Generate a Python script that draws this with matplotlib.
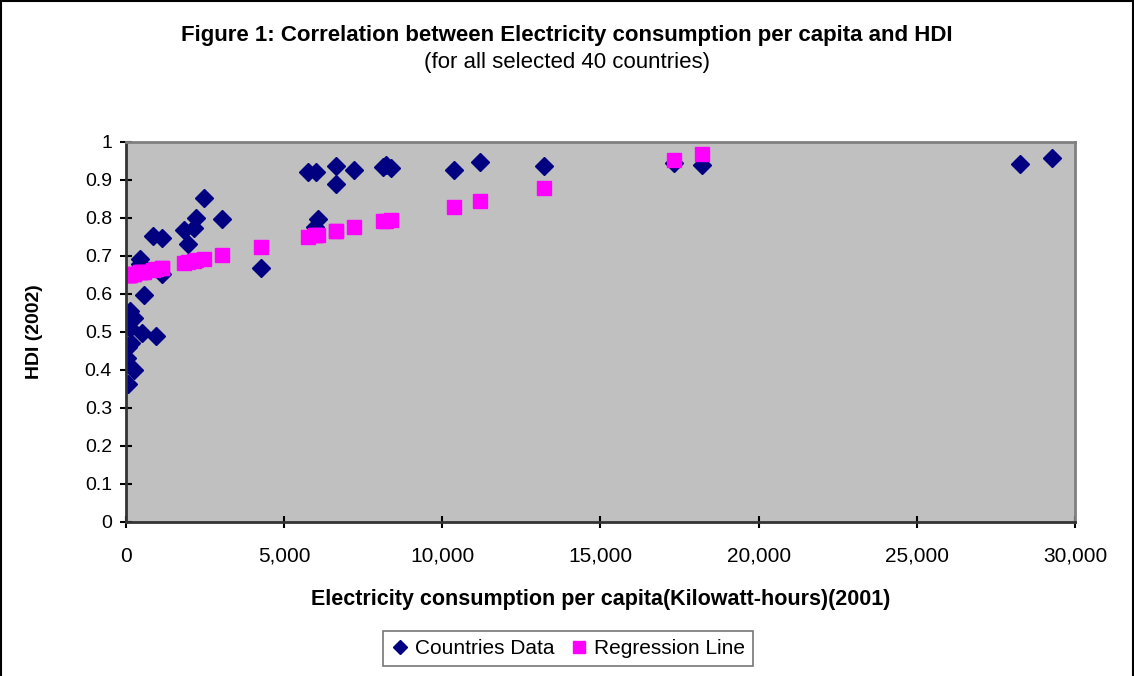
import numpy as np
import matplotlib
matplotlib.use("Agg")
from matplotlib import pyplot as plt
from matplotlib.patches import Rectangle
from matplotlib.ticker import FuncFormatter

plt.rcParams['font.family'] = ['Liberation Sans', 'DejaVu Sans']

# Electricity consumption per capita (kWh, 2001) and HDI (2002)
elec = [2466, 2203, 3035, 1824, 2150, 863, 1138, 1950, 433, 450,
        1128, 4268, 559, 126, 253, 126, 496, 948, 60, 150,
        20, 253, 63, 5743, 6006, 6638, 6638, 7207, 8113, 8219,
        8366, 6059, 5975, 10368, 11190, 13213, 17322, 18207, 28260, 29271]
hdi = [0.853, 0.801, 0.796, 0.769, 0.773, 0.753, 0.748, 0.732, 0.692, 0.680,
       0.653, 0.669, 0.596, 0.556, 0.536, 0.510, 0.496, 0.489, 0.460, 0.470,
       0.431, 0.401, 0.364, 0.922, 0.922, 0.938, 0.890, 0.927, 0.934, 0.939,
       0.932, 0.796, 0.777, 0.926, 0.947, 0.937, 0.944, 0.940, 0.942, 0.959]
# regression points (last two fall above the plot and are not shown)
reg_hdi = [0.692, 0.688, 0.702, 0.681, 0.687, 0.664, 0.669, 0.683, 0.657, 0.657,
           0.669, 0.724, 0.659, 0.651, 0.653, 0.651, 0.658, 0.666, 0.650, 0.652,
           0.649, 0.653, 0.650, 0.750, 0.754, 0.765, 0.765, 0.775, 0.791, 0.793,
           0.795, 0.755, 0.754, 0.830, 0.845, 0.880, 0.952, 0.968, np.nan, np.nan]

xticks = [0, 5000, 10000, 15000, 20000, 25000, 30000]
yticks = [0, 0.1, 0.2, 0.3, 0.4, 0.5, 0.6, 0.7, 0.8, 0.9, 1]

fig = plt.figure(figsize=(11.34, 6.76), dpi=100)
ax = fig.add_axes([0.111, 0.228, 0.837, 0.562])
ax.set_facecolor('#C0C0C0')

ax.plot(elec, hdi, linestyle='none', marker='D', markersize=9,
        color='#000080', label='Countries Data')
ax.plot(elec, reg_hdi, linestyle='none', marker='s', markersize=10.5,
        color='#FF00FF', label='Regression Line')

ax.set_xlim(0, 30000)
ax.set_ylim(0, 1)
ax.set_xticks(xticks)
ax.set_yticks(yticks)
ax.xaxis.set_major_formatter(FuncFormatter(lambda v, p: f"{int(v):,}"))
ax.yaxis.set_major_formatter(FuncFormatter(lambda v, p: f"{v:g}"))
ax.tick_params(direction='inout', length=8, width=1.5, labelsize=14)
ax.tick_params(axis='x', pad=14, labelsize=15)
ax.tick_params(axis='y', pad=6)

for side in ['top', 'right']:
    ax.spines[side].set_color('#808080')
    ax.spines[side].set_linewidth(2)
for side in ['left', 'bottom']:
    ax.spines[side].set_color('#333333')
    ax.spines[side].set_linewidth(2)

ax.set_xlabel('Electricity consumption per capita(Kilowatt-hours)(2001)',
              fontsize=15.5, fontweight='bold', labelpad=17)
ax.set_ylabel('HDI (2002)', fontsize=14, fontweight='bold', labelpad=30)

fig.text(0.5, 0.948, 'Figure 1: Correlation between Electricity consumption per capita and HDI',
         ha='center', va='center', fontsize=16, fontweight='bold')
fig.text(0.5, 0.908, '(for all selected 40 countries)',
         ha='center', va='center', fontsize=16)

leg = fig.legend(loc='center', bbox_to_anchor=(0.501, 0.0405), ncol=2, fontsize=15,
                 frameon=True, fancybox=False, handlelength=0.8, handletextpad=0.3,
                 columnspacing=0.8, borderpad=0.4, markerscale=0.8)
leg.get_frame().set_edgecolor('#555555')
leg.get_frame().set_linewidth(1.2)

# outer chart border
fig.patches.append(Rectangle((0.001, -0.01), 0.998, 1.008, transform=fig.transFigure,
                             fill=False, edgecolor='black', linewidth=1.5))

fig.savefig('out.png', dpi=100)
